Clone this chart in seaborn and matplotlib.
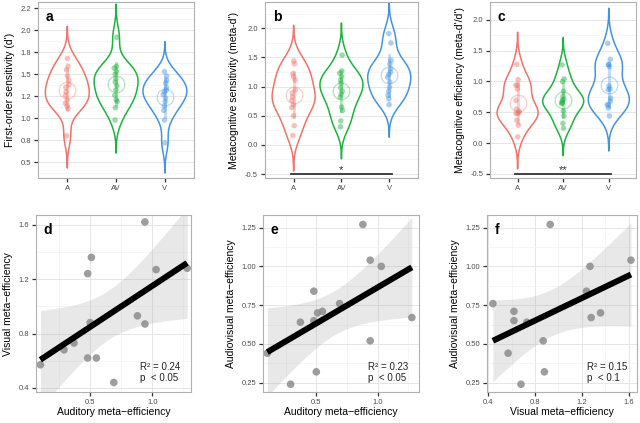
import numpy as np
import pandas as pd
import matplotlib
matplotlib.use("Agg")
import matplotlib.pyplot as plt
from matplotlib.ticker import AutoMinorLocator, FormatStrFormatter
import seaborn as sns

# conditions and colours
conds = ["A", "AV", "V"]
pal = {"A": "#F0736A", "AV": "#1DB33F", "V": "#4294E3"}

# panel a: first-order sensitivity (d')
dprime_A = [1.68, 1.59, 1.55, 1.48, 1.43, 1.38, 1.35, 1.30, 1.26, 1.21, 1.17, 1.14, 1.11, 0.80]
dprime_AV = [1.92, 1.59, 1.57, 1.53, 1.50, 1.45, 1.41, 1.37, 1.32, 1.26, 1.21, 1.19, 1.12, 0.98]
dprime_V = [1.53, 1.48, 1.43, 1.40, 1.35, 1.32, 1.30, 1.27, 1.23, 1.19, 1.14, 1.09, 0.98, 0.72]

# panel b: meta-d'
metad_A = [1.44, 1.39, 1.22, 1.17, 1.11, 0.94, 0.89, 0.82, 0.76, 0.69, 0.64, 0.50, 0.33, 0.16]
metad_AV = [1.54, 1.27, 1.23, 1.17, 1.11, 1.06, 0.98, 0.92, 0.87, 0.82, 0.65, 0.59, 0.41, 0.31]
metad_V = [1.91, 1.75, 1.45, 1.39, 1.31, 1.25, 1.21, 1.16, 1.08, 0.99, 0.92, 0.85, 0.79, 0.69]

# panel c-f: meta-efficiency per subject (same order in all three lists)
eff_A = [0.10, 0.29, 0.37, 0.48, 0.51, 0.50, 0.48, 0.55, 0.69, 0.88, 0.94, 0.94, 1.03, 1.28]
eff_V = [0.57, 0.68, 0.73, 1.24, 1.36, 0.88, 0.62, 0.62, 0.44, 0.93, 0.87, 1.62, 1.27, 1.28]
eff_AV = [0.44, 0.24, 0.64, 0.84, 0.70, 0.32, 0.65, 0.71, 0.76, 1.27, 0.52, 1.04, 1.00, 0.67]

plt.rcParams["font.family"] = ["Liberation Sans", "DejaVu Sans"]
plt.rcParams["axes.unicode_minus"] = False

T_CRIT = 2.179  # t(0.975, df=12) for the 95% band


def long_df(a, av, v):
    return pd.DataFrame({
        "cond": ["A"] * len(a) + ["AV"] * len(av) + ["V"] * len(v),
        "val": a + av + v,
    })


def style_ax(ax):
    ax.set_facecolor("white")
    for s in ax.spines.values():
        s.set_color("#b0b0b0")
        s.set_linewidth(0.8)
    ax.grid(True, which="major", color="#e6e6e6", linewidth=0.7)
    ax.grid(True, which="minor", color="#f3f3f3", linewidth=0.5)
    ax.set_axisbelow(True)
    ax.tick_params(which="major", length=3, width=0.9, color="#333333",
                   labelsize=5.5, labelcolor="#4d4d4d", pad=2)
    ax.tick_params(which="minor", length=0)


def violin_panel(ax, df, ylim, letter, ylabel):
    style_ax(ax)
    sns.violinplot(data=df, x="cond", y="val", hue="cond", palette=pal, fill=False,
                   inner=None, cut=3, bw_adjust=0.9, width=0.9, linewidth=1.1,
                   density_norm="area", legend=False, ax=ax)
    np.random.seed(3)
    sns.stripplot(data=df, x="cond", y="val", hue="cond", palette=pal, size=4,
                  alpha=0.45, jitter=0.04, legend=False, ax=ax, zorder=3)
    sns.pointplot(data=df, x="cond", y="val", hue="cond", palette=pal, errorbar="sd",
                  linestyle="none", markers="o", markersize=12, markerfacecolor="none",
                  markeredgewidth=0.9, alpha=0.35, err_kws={"linewidth": 2, "alpha": 0.35},
                  legend=False, ax=ax)
    ax.set_xlim(-0.6, 2.6)
    ax.set_ylim(*ylim)
    ax.yaxis.set_major_formatter(FormatStrFormatter("%.1f"))
    ax.yaxis.set_minor_locator(AutoMinorLocator(2))
    ax.set_xlabel("")
    ax.set_ylabel(ylabel, fontsize=7.5)
    ax.text(0.05, 0.955, letter, transform=ax.transAxes, fontsize=10,
            fontweight="bold", va="top", ha="left")


def scatter_panel(ax, x, y, xlim, ylim, xticks, yticks, fmt_x, fmt_y, letter,
                  xlabel, ylabel, stats):
    style_ax(ax)
    x = np.array(x)
    y = np.array(y)
    # analytic 95% confidence band of the linear fit
    slope, icpt = np.polyfit(x, y, 1)
    resid = y - (slope * x + icpt)
    s = np.sqrt(np.sum(resid ** 2) / (len(x) - 2))
    xs = np.linspace(x.min(), x.max(), 100)
    se = s * np.sqrt(1 / len(x) + (xs - x.mean()) ** 2 / np.sum((x - x.mean()) ** 2))
    fit = slope * xs + icpt
    ax.fill_between(xs, fit - T_CRIT * se, fit + T_CRIT * se, color="#999999",
                    alpha=0.22, linewidth=0, zorder=1)
    sns.scatterplot(x=x, y=y, color="#8c8c8c", s=30, alpha=0.85, edgecolor="none",
                    ax=ax, zorder=2)
    sns.regplot(x=x, y=y, scatter=False, ci=None, ax=ax,
                line_kws={"color": "black", "linewidth": 4.3, "solid_capstyle": "butt",
                          "zorder": 3})
    ax.set_xlim(*xlim)
    ax.set_ylim(*ylim)
    ax.set_xticks(xticks)
    ax.set_yticks(yticks)
    ax.xaxis.set_major_formatter(FormatStrFormatter(fmt_x))
    ax.yaxis.set_major_formatter(FormatStrFormatter(fmt_y))
    ax.xaxis.set_minor_locator(AutoMinorLocator(2))
    ax.yaxis.set_minor_locator(AutoMinorLocator(2))
    ax.set_xlabel(xlabel, fontsize=7.5, labelpad=1)
    ax.set_ylabel(ylabel, fontsize=7.5)
    ax.text(0.05, 0.955, letter, transform=ax.transAxes, fontsize=10,
            fontweight="bold", va="top", ha="left")
    ax.text(0.67, 0.05, stats, transform=ax.transAxes, fontsize=7,
            va="bottom", ha="left", linespacing=1.15, color="#222222")


fig = plt.figure(figsize=(6.4, 4.23), dpi=100)
ax_a = fig.add_axes([0.0594, 0.579, 0.244, 0.416])
ax_b = fig.add_axes([0.414, 0.579, 0.239, 0.416])
ax_c = fig.add_axes([0.766, 0.579, 0.228, 0.416])
ax_d = fig.add_axes([0.0563, 0.0733, 0.242, 0.418])
ax_e = fig.add_axes([0.411, 0.0733, 0.244, 0.418])
ax_f = fig.add_axes([0.761, 0.0733, 0.234, 0.418])

violin_panel(ax_a, long_df(dprime_A, dprime_AV, dprime_V), (0.32, 2.32), "a",
             "First-order sensitivity (d')")
violin_panel(ax_b, long_df(metad_A, metad_AV, metad_V), (-0.57, 2.45), "b",
             "Metacognitive sensitivity (meta-d')")
violin_panel(ax_c, long_df(eff_A, eff_AV, eff_V), (-0.57, 2.29), "c",
             "Metacognitive efficiency (meta-d'/d')")

# significance bars
ax_b.plot([-0.05, 2.05], [-0.5, -0.5], color="#333333", lw=1.3, zorder=4)
ax_b.text(1, -0.44, "*", ha="center", va="center", fontsize=8, color="#333333")
ax_c.plot([-0.05, 2.05], [-0.5, -0.5], color="#333333", lw=1.3, zorder=4)
ax_c.text(1, -0.44, "**", ha="center", va="center", fontsize=8, color="#333333")

m = "\u2212"
scatter_panel(ax_d, eff_A, eff_V, (0.065, 1.31), (0.37, 1.67), [0.5, 1.0],
              [0.4, 0.8, 1.2, 1.6], "%.1f", "%.1f", "d",
              f"Auditory meta{m}efficiency", f"Visual meta{m}efficiency",
              "R\u00b2 = 0.24\np  < 0.05")
scatter_panel(ax_e, eff_A, eff_AV, (0.065, 1.34), (0.19, 1.33), [0.5, 1.0],
              [0.25, 0.5, 0.75, 1.0, 1.25], "%.1f", "%.2f", "e",
              f"Auditory meta{m}efficiency", f"Audiovisual meta{m}efficiency",
              "R\u00b2 = 0.23\np  < 0.05")
scatter_panel(ax_f, eff_V, eff_AV, (0.39, 1.67), (0.19, 1.33), [0.4, 0.8, 1.2, 1.6],
              [0.25, 0.5, 0.75, 1.0, 1.25], "%.1f", "%.2f", "f",
              f"Visual meta{m}efficiency", f"Audiovisual meta{m}efficiency",
              "R\u00b2 = 0.15\np  < 0.1")

fig.savefig("out.png", dpi=100)
